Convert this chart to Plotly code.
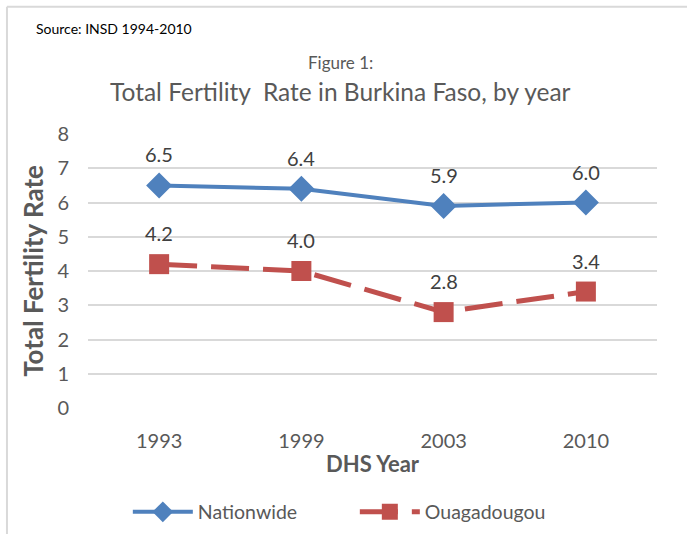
import plotly.graph_objects as go

years = ["1993", "1999", "2003", "2010"]
nationwide = [6.5, 6.4, 5.9, 6.0]
ouaga = [4.2, 4.0, 2.8, 3.4]
y_ticks = [0, 1, 2, 3, 4, 5, 6, 7, 8]

FONT = "Lato"
GRAY = "#595959"
BLUE = "#4F81BD"
RED = "#C0504D"

fig = go.Figure()
fig.add_trace(go.Scatter(
    x=years, y=nationwide, name="Nationwide", mode="lines+markers",
    line=dict(color=BLUE, width=4),
    marker=dict(symbol="diamond", size=20, color=BLUE),
))
fig.add_trace(go.Scatter(
    x=years, y=ouaga, name="Ouagadougou", mode="lines+markers",
    line=dict(color=RED, width=5, dash="38px,14px"),
    marker=dict(symbol="square", size=20, color=RED),
))

annotations = []
for ys in (nationwide, ouaga):
    for i, y in enumerate(ys):
        annotations.append(dict(x=i, y=y, text=f"{y:.1f}", showarrow=False,
                                yshift=31, font=dict(size=20, color="#404040", family=FONT)))

annotations.append(dict(xref="paper", yref="paper", x=-0.093, y=1.385, text="Source: INSD 1994-2010",
                        showarrow=False, xanchor="left", yanchor="middle", borderpad=0,
                        font=dict(size=14, color="#000000", family=FONT)))
annotations.append(dict(xref="paper", yref="paper", x=0.443, y=1.26, text="Figure 1:",
                        showarrow=False, xanchor="center", yanchor="middle",
                        font=dict(size=17, color=GRAY, family=FONT)))
annotations.append(dict(xref="paper", yref="paper", x=0.443, y=1.155,
                        text="Total Fertility  Rate in Burkina Faso, by year",
                        showarrow=False, xanchor="center", yanchor="middle",
                        font=dict(size=24.5, color=GRAY, family=FONT)))

fig.update_layout(
    width=687, height=534,
    margin=dict(l=88, r=30, t=134, b=126, autoexpand=False),
    paper_bgcolor="white", plot_bgcolor="white",
    font=dict(family=FONT, color=GRAY),
    showlegend=True,
    legend=dict(orientation="h", x=0.07, xanchor="left", y=-0.38, yanchor="middle",
                font=dict(size=19.5, color=GRAY, family=FONT), itemwidth=60,
                entrywidthmode="pixels", entrywidth=152),
    annotations=annotations,
    xaxis=dict(type="category", range=[-0.5, 3.5], showgrid=False, zeroline=False, showline=False,
               automargin=False, tickfont=dict(size=20, color=GRAY), ticks="", ticklabelstandoff=19,
               title=dict(text="<b>DHS Year</b>", font=dict(size=22, color=GRAY), standoff=5)),
    yaxis=dict(range=[0, 8], tickvals=y_ticks, showgrid=True, gridcolor="#D9D9D9", gridwidth=1.5,
               automargin=False, zeroline=False, showline=False, ticks="", ticklabelstandoff=18,
               tickfont=dict(size=20, color=GRAY),
               title=dict(text="<b>Total Fertility Rate</b>", font=dict(size=26, color=GRAY), standoff=6)),
    shapes=[
        dict(type="line", xref="paper", yref="paper", x0=-0.1424, x1=-0.1424, y0=-0.46, y1=1.464,
             line=dict(color="#D9D9D9", width=2)),
        dict(type="line", xref="paper", yref="paper", x0=-0.1424, x1=1.06, y0=1.464, y1=1.464,
             line=dict(color="#D9D9D9", width=2)),
    ],
)

fig.write_html("out.html", config={"displayModeBar": False},
               post_script="document.body.style.margin='0';")
